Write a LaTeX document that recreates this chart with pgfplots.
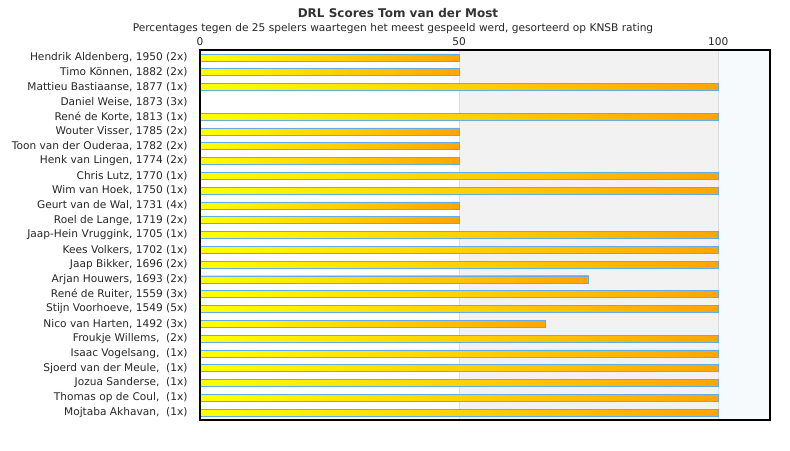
\documentclass[border=0pt]{standalone}
\usepackage{pgfplots}
\pgfplotsset{compat=1.18}
\usepackage{fontspec}
\setmainfont{DejaVu Sans}
\definecolor{barborder}{RGB}{100,170,240}
\definecolor{band}{RGB}{242,242,242}
\definecolor{bandblue}{RGB}{247,250,253}
\definecolor{gridc}{RGB}{221,221,221}
\definecolor{baryellow}{RGB}{255,255,0}
\definecolor{barorange}{RGB}{255,165,0}
\tikzset{barsty/.style={draw=barborder, line width=0.8pt, left color=baryellow, right color=barorange}}
\begin{document}
\begin{tikzpicture}[x=1pt,y=1pt]
\path[use as bounding box] (0,0) rectangle (790,450);
\node[font=\bfseries\fontsize{12}{14}\selectfont, text=black!80] at (398,437) {DRL Scores Tom van der Most};
\node[font=\fontsize{10.6}{12}\selectfont, text=black!85] at (393,421) {Percentages tegen de 25 spelers waartegen het meest gespeeld werd, gesorteerd op KNSB rating};
\begin{axis}[
  at={(200pt,30pt)}, anchor=south west, scale only axis,
  width=570pt, height=370pt,
  xmin=0, xmax=110, ymin=-0.5, ymax=24.5, y dir=reverse,
  xbar, bar width=7pt, bar shift=0pt,
  xtick={0,50,100}, xticklabel pos=right,
  major tick length=0pt,
  ytick={0,...,24},
  yticklabels={
    {Hendrik Aldenberg, 1950 (2x)},
    {Timo Können, 1882 (2x)},
    {Mattieu Bastiaanse, 1877 (1x)},
    {Daniel Weise, 1873 (3x)},
    {René de Korte, 1813 (1x)},
    {Wouter Visser, 1785 (2x)},
    {Toon van der Ouderaa, 1782 (2x)},
    {Henk van Lingen, 1774 (2x)},
    {Chris Lutz, 1770 (1x)},
    {Wim van Hoek, 1750 (1x)},
    {Geurt van de Wal, 1731 (4x)},
    {Roel de Lange, 1719 (2x)},
    {Jaap-Hein Vruggink, 1705 (1x)},
    {Kees Volkers, 1702 (1x)},
    {Jaap Bikker, 1696 (2x)},
    {Arjan Houwers, 1693 (2x)},
    {René de Ruiter, 1559 (3x)},
    {Stijn Voorhoeve, 1549 (5x)},
    {Nico van Harten, 1492 (3x)},
    {Froukje Willems,\ \ (2x)},
    {Isaac Vogelsang,\ \ (1x)},
    {Sjoerd van der Meule,\ \ (1x)},
    {Jozua Sanderse,\ \ (1x)},
    {Thomas op de Coul,\ \ (1x)},
    {Mojtaba Akhavan,\ \ (1x)}},
  tick label style={font=\fontsize{10.6}{12}\selectfont, text=black!85},
  yticklabel style={xshift=-9pt},
  xticklabel style={yshift=1pt},
  /pgf/number format/assume math mode=true,
  axis line style={black, line width=1.1pt},
  axis on top,
]
\fill[white] (axis cs:0,-0.5) rectangle (axis cs:50,24.5);
\fill[band] (axis cs:50,-0.5) rectangle (axis cs:100,24.5);
\fill[bandblue] (axis cs:100,-0.5) rectangle (axis cs:110,24.5);
\draw[gridc, line width=0.8pt] (axis cs:50,-0.5) -- (axis cs:50,24.5);
\draw[gridc, line width=0.8pt] (axis cs:100,-0.5) -- (axis cs:100,24.5);
% 50 percent
\addplot[barsty] coordinates {(50,0) (50,1) (50,5) (50,6) (50,7) (50,10) (50,11)};
% 100 percent
\addplot[barsty] coordinates {(100,2) (100,4) (100,8) (100,9) (100,12) (100,13) (100,14) (100,16) (100,17)
  (100,19) (100,20) (100,21) (100,22) (100,23) (100,24)};
% others
\addplot[barsty] coordinates {(75,15)};
\addplot[barsty] coordinates {(66.67,18)};
% zero (no visible bar)
\addplot[draw=none, fill=none] coordinates {(0,3)};
\end{axis}
\end{tikzpicture}
\end{document}
